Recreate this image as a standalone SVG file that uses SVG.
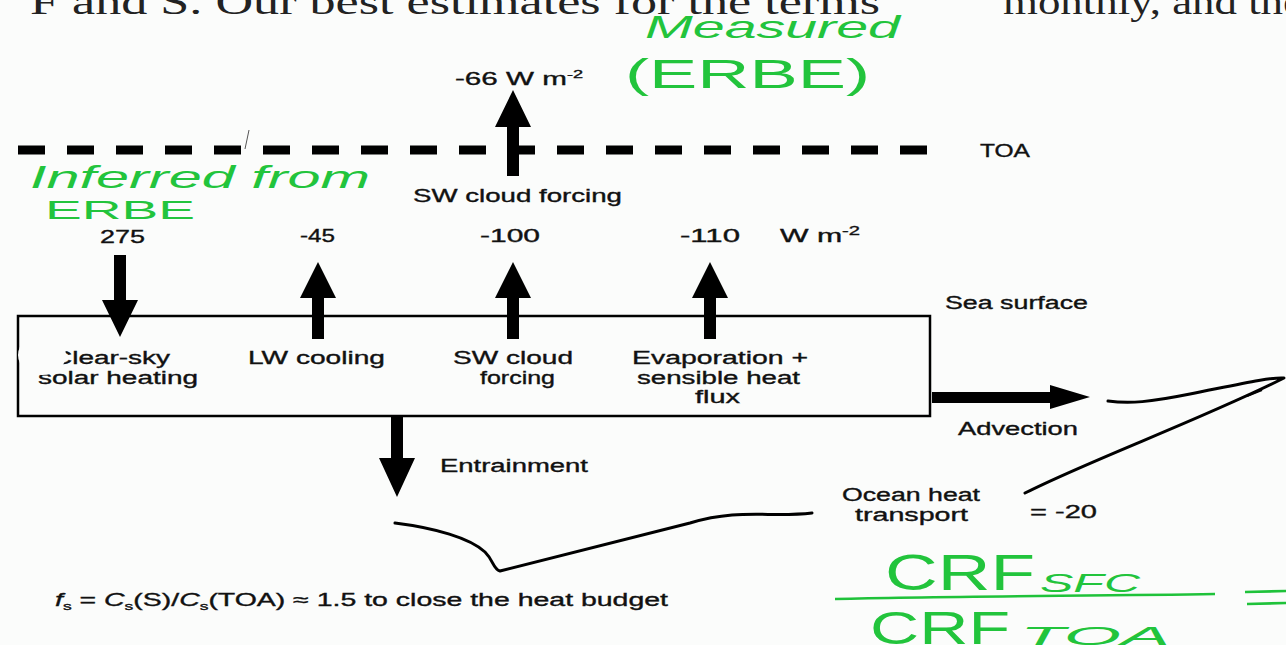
<svg xmlns="http://www.w3.org/2000/svg" width="1286" height="645" viewBox="0 0 1286 645">
<style>
.t{font-family:"Liberation Sans",Arial,sans-serif;font-size:18px;fill:#111;stroke:#111;stroke-width:0.35;}
.g{fill:none;stroke:#1fc23a;stroke-width:2.6;}
.gt{font-family:"Liberation Sans","DejaVu Sans",sans-serif;fill:#22c43c;}
.a{fill:#000;}
.c{fill:none;stroke:#000;stroke-width:3;stroke-linecap:round;stroke-linejoin:round;}
</style>
<rect width="1286" height="645" fill="#fbfcfb"/>
<text x="30" y="14" font-family="Liberation Serif,serif" font-size="36" fill="#222" textLength="850" lengthAdjust="spacingAndGlyphs">F and S. Our best estimates for the terms</text>
<text x="1003" y="14" font-family="Liberation Serif,serif" font-size="36" fill="#222" textLength="300" lengthAdjust="spacingAndGlyphs">monthly, and the</text>

<g id="toa">
<line x1="18" y1="150" x2="935" y2="150" stroke="#000" stroke-width="9" stroke-dasharray="27 22"/>
<text class="t" x="980" y="157" textLength="50" lengthAdjust="spacingAndGlyphs">TOA</text>
</g>
<line x1="249" y1="130" x2="245" y2="149" stroke="#555" stroke-width="1"/>

<g id="connectors">
<polygon class="a" points="513,90 531,127 519,127 519,176 507,176 507,127 495,127"/>
<polygon class="a" points="120,337 138,300 126,300 126,255 114,255 114,300 102,300"/>
<polygon class="a" points="318,262 336,298 324,298 324,339 312,339 312,298 300,298"/>
<polygon class="a" points="513,262 531,298 519,298 519,339 507,339 507,298 495,298"/>
<polygon class="a" points="710,262 728,298 716,298 716,339 704,339 704,298 692,298"/>
<polygon class="a" points="397,497 415,458 403,458 403,417 391,417 391,458 379,458"/>
<polygon class="a" points="1090,397 1050,385 1050,392 932,392 932,403 1050,403 1050,409"/>
<path class="c" d="M395,523 C435,528 470,538 485,552 C494,561 493,569 500,571 L690,523 C740,508 770,518 812,513"/>
<path class="c" d="M1108,401 C1130,404 1150,402 1190,394 C1240,384 1270,377 1284,378 C1200,420 1090,460 1025,493"/>
<line x1="1247" y1="396" x2="1262" y2="390" stroke="#000" stroke-width="2"/>
</g>

<g id="top-flux">
<text class="t" x="455" y="85" font-size="16" textLength="128" lengthAdjust="spacingAndGlyphs">-66 W m<tspan font-size="11" dy="-7">-2</tspan></text>
<text class="t" x="413" y="202" textLength="209" lengthAdjust="spacingAndGlyphs">SW cloud forcing</text>
</g>

<g id="values">
<text class="t" x="100" y="243" textLength="45" lengthAdjust="spacingAndGlyphs">275</text>
<text class="t" x="300" y="242" textLength="35" lengthAdjust="spacingAndGlyphs">-45</text>
<text class="t" x="480" y="242" textLength="60" lengthAdjust="spacingAndGlyphs">-100</text>
<text class="t" x="680" y="242" textLength="60" lengthAdjust="spacingAndGlyphs">-110</text>
<text class="t" x="780" y="242" textLength="80" lengthAdjust="spacingAndGlyphs">W m<tspan font-size="12" dy="-7">-2</tspan></text>
</g>

<g id="sea-surface">
<text class="t" x="945" y="309" textLength="143" lengthAdjust="spacingAndGlyphs">Sea surface</text>
</g>

<g id="mixed-layer">
<rect x="18" y="316" width="912" height="100" fill="none" stroke="#000" stroke-width="2.5"/>
<text class="t" x="52" y="364" textLength="118" lengthAdjust="spacingAndGlyphs">Clear-sky</text>
<text class="t" x="38" y="384" textLength="160" lengthAdjust="spacingAndGlyphs">solar heating</text>
<ellipse cx="42" cy="355" rx="24" ry="20" fill="#fbfcfb"/>
<text class="t" x="248" y="364" textLength="137" lengthAdjust="spacingAndGlyphs">LW cooling</text>
<text class="t" x="453" y="364" textLength="120" lengthAdjust="spacingAndGlyphs">SW cloud</text>
<text class="t" x="480" y="384" textLength="75" lengthAdjust="spacingAndGlyphs">forcing</text>
<text class="t" x="632" y="364" textLength="176" lengthAdjust="spacingAndGlyphs">Evaporation +</text>
<text class="t" x="637" y="384" textLength="163" lengthAdjust="spacingAndGlyphs">sensible heat</text>
<text class="t" x="695" y="403" textLength="45" lengthAdjust="spacingAndGlyphs">flux</text>
</g>

<g id="advection">
<text class="t" x="958" y="435" textLength="120" lengthAdjust="spacingAndGlyphs">Advection</text>
</g>
<g id="entrainment">
<text class="t" x="440" y="472" textLength="148" lengthAdjust="spacingAndGlyphs">Entrainment</text>
</g>
<g id="ocean">
<text class="t" x="842" y="501" textLength="138" lengthAdjust="spacingAndGlyphs">Ocean heat</text>
<text class="t" x="855" y="521" textLength="113" lengthAdjust="spacingAndGlyphs">transport</text>
<text class="t" x="1030" y="518" textLength="67" lengthAdjust="spacingAndGlyphs">= -20</text>
</g>

<g id="formula">
<text class="t" x="55" y="606" font-size="17" textLength="613" lengthAdjust="spacingAndGlyphs"><tspan font-style="italic">f</tspan><tspan font-size="11" dy="4">s</tspan><tspan dy="-4"> = </tspan><tspan font-style="italic">C</tspan><tspan font-size="11" dy="4">s</tspan><tspan dy="-4">(S)/</tspan><tspan font-style="italic">C</tspan><tspan font-size="11" dy="4">s</tspan><tspan dy="-4">(TOA) ≈ 1.5 to close the heat budget</tspan></text>
</g>

<g id="annotations">
<text class="gt" x="645" y="38" font-size="32" font-style="italic" textLength="255" lengthAdjust="spacingAndGlyphs">Measured</text>
<text class="gt" x="625" y="88" font-size="40" textLength="245" lengthAdjust="spacingAndGlyphs">(ERBE)</text>
<text class="gt" x="30" y="188" font-size="32" font-style="italic" textLength="340" lengthAdjust="spacingAndGlyphs">Inferred from</text>
<text class="gt" x="45" y="219" font-size="26" textLength="150" lengthAdjust="spacingAndGlyphs">ERBE</text>
<text class="gt" x="885" y="590" font-size="50" textLength="150" lengthAdjust="spacingAndGlyphs">CRF</text>
<text class="gt" x="1040" y="592" font-size="26" font-style="italic" textLength="100" lengthAdjust="spacingAndGlyphs">SFC</text>
<path class="g" d="M835,599 C950,596 1100,596 1215,594"/>
<text class="gt" x="870" y="644" font-size="46" textLength="140" lengthAdjust="spacingAndGlyphs">CRF</text>
<text class="gt" x="1020" y="645" font-size="26" font-style="italic" textLength="150" lengthAdjust="spacingAndGlyphs">TOA</text>
<path class="g" d="M1245,592 L1286,591 M1247,604 L1286,603"/>
</g>
</svg>
